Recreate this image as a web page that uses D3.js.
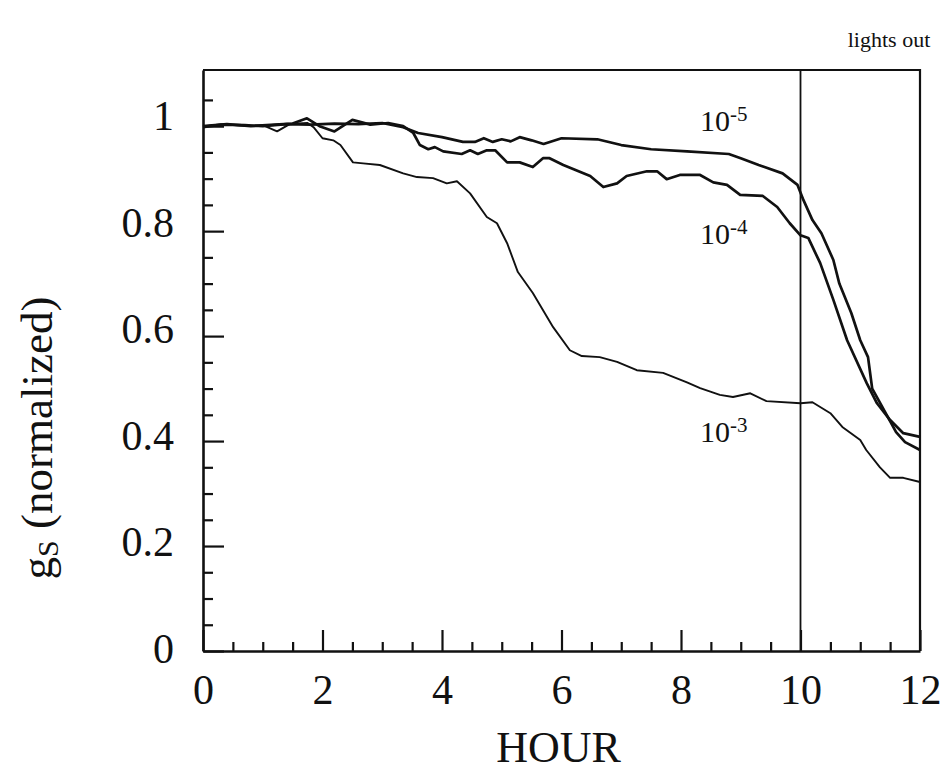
<!DOCTYPE html>
<html>
<head>
<meta charset="utf-8">
<script src="https://cdn.jsdelivr.net/npm/d3@7"></script>
<style>
  html, body { margin: 0; padding: 0; background: #fff; }
  svg { display: block; }
  text { font-family: "Liberation Serif", "Times New Roman", serif; fill: #111; }
</style>
</head>
<body>
<div id="chart"></div>
<script>
// ---- data ----
const xTicks = [0, 2, 4, 6, 8, 10, 12];
const xMinorTicks = [0.5, 1, 1.5, 2.5, 3, 3.5, 4.5, 5, 5.5, 6.5, 7, 7.5, 8.5, 9, 9.5, 10.5, 11, 11.5];
const yTicks = [0, 0.2, 0.4, 0.6, 0.8, 1];
const yTickLabels = ['0', '0.2', '0.4', '0.6', '0.8', '1'];
const yMinorTicks = [0.05, 0.1, 0.15, 0.25, 0.3, 0.35, 0.45, 0.5, 0.55, 0.65, 0.7, 0.75, 0.85, 0.9, 0.95, 1.05];
const lightsOutHour = 10;

// 10^-5
const hours5 = [0, 0.3, 0.7, 1.0, 1.4, 1.8, 2.2, 2.6, 3.0, 3.35, 3.6, 4.0, 4.35, 4.55, 4.7, 4.85, 5.0, 5.15, 5.3, 5.5,
  5.7, 6.0, 6.6, 7.0, 7.5, 8.1, 8.8, 9.0, 9.3, 9.7, 9.95, 10.05, 10.2, 10.35, 10.55, 10.65, 10.85, 11.0, 11.13, 11.2,
  11.35, 11.6, 11.75, 12.0];
const gs5 = [0.998, 1.003, 1.002, 1.0, 1.004, 1.003, 1.005, 1.004, 1.006, 0.998, 0.987, 0.979, 0.970, 0.970, 0.977,
  0.970, 0.975, 0.971, 0.979, 0.973, 0.966, 0.977, 0.975, 0.964, 0.956, 0.952, 0.947, 0.939, 0.926, 0.910, 0.888,
  0.859, 0.821, 0.796, 0.745, 0.70, 0.644, 0.592, 0.56, 0.50, 0.469, 0.417, 0.398, 0.383];

// 10^-4
const hours4 = [0, 0.4, 0.8, 1.2, 1.5, 1.74, 1.95, 2.2, 2.5, 2.8, 3.1, 3.35, 3.52, 3.63, 3.77, 3.88, 4.02, 4.33, 4.47,
  4.6, 4.75, 4.89, 5.09, 5.3, 5.52, 5.69, 5.8, 6.03, 6.48, 6.7, 6.93, 7.09, 7.43, 7.6, 7.76, 7.98, 8.32, 8.54, 8.77,
  8.99, 9.37, 9.61, 9.82, 10.0, 10.13, 10.33, 10.55, 10.78, 11.11, 11.28, 11.5, 11.72, 12.0];
const gs4 = [1.0, 1.004, 1.0, 1.003, 1.005, 1.015, 1.0, 0.99, 1.012, 1.003, 1.006, 1.0, 0.987, 0.964, 0.956, 0.96,
  0.952, 0.947, 0.954, 0.947, 0.954, 0.954, 0.931, 0.931, 0.922, 0.939, 0.939, 0.926, 0.905, 0.884, 0.891, 0.905,
  0.914, 0.914, 0.899, 0.907, 0.907, 0.893, 0.888, 0.869, 0.867, 0.846, 0.815, 0.792, 0.787, 0.739, 0.669, 0.592,
  0.510, 0.472, 0.44, 0.415, 0.408];

// 10^-3
const hours3 = [0, 0.4, 0.8, 1.0, 1.24, 1.45, 1.75, 1.85, 2.0, 2.18, 2.3, 2.51, 2.68, 2.96, 3.35, 3.58, 3.85, 4.08,
  4.25, 4.47, 4.75, 4.92, 5.09, 5.27, 5.52, 5.86, 6.14, 6.34, 6.64, 6.93, 7.26, 7.7, 8.1, 8.32, 8.65, 8.87, 9.16,
  9.43, 10.0, 10.2, 10.5, 10.7, 11.0, 11.1, 11.33, 11.5, 11.72, 12.0];
const gs3 = [1.0, 1.003, 1.0, 1.002, 0.99, 1.004, 1.006, 0.998, 0.977, 0.973, 0.964, 0.931, 0.929, 0.926, 0.910,
  0.903, 0.901, 0.891, 0.895, 0.872, 0.827, 0.815, 0.777, 0.722, 0.682, 0.617, 0.573, 0.562, 0.560, 0.551, 0.535,
  0.530, 0.512, 0.501, 0.488, 0.484, 0.491, 0.476, 0.472, 0.474, 0.453, 0.427, 0.402, 0.383, 0.350, 0.33, 0.33,
  0.322];

const series = [
  { exp: '-5', hours: hours5, values: gs5, width: 2.7, labelHour: 8.32, labelY: 0.99 },
  { exp: '-4', hours: hours4, values: gs4, width: 2.7, labelHour: 8.32, labelY: 0.775 },
  { exp: '-3', hours: hours3, values: gs3, width: 1.9, labelHour: 8.32, labelY: 0.398 }
];

// ---- layout ----
const W = 943, H = 773;
const plot = { left: 203, right: 920, top: 70, bottom: 651 };
const yMax = 1.107;

const svg = d3.select('#chart').append('svg')
  .attr('width', W).attr('height', H);

const x = d3.scaleLinear().domain([0, 12]).range([plot.left, plot.right]);
const y = d3.scaleLinear().domain([0, yMax]).range([plot.bottom, plot.top]);

// frame (top and right)
svg.append('path')
  .attr('d', `M${plot.left},${plot.top}H${plot.right}V${plot.bottom}`)
  .attr('fill', 'none').attr('stroke', '#111').attr('stroke-width', 2.2);

// minor ticks
svg.append('g')
  .attr('transform', `translate(0,${plot.bottom})`)
  .call(d3.axisBottom(x).tickValues(xMinorTicks).tickSize(-9).tickFormat(''))
  .call(g => g.select('.domain').remove())
  .selectAll('line').attr('stroke', '#111').attr('stroke-width', 2.2);
svg.append('g')
  .attr('transform', `translate(${plot.left},0)`)
  .call(d3.axisLeft(y).tickValues(yMinorTicks).tickSize(-10).tickFormat(''))
  .call(g => g.select('.domain').remove())
  .selectAll('line').attr('stroke', '#111').attr('stroke-width', 2.2);

// major x axis
const xAxis = svg.append('g')
  .attr('transform', `translate(0,${plot.bottom})`)
  .call(d3.axisBottom(x).tickValues(xTicks).tickSize(-21).tickSizeOuter(0).tickPadding(23).tickFormat(d3.format('d')));
xAxis.select('.domain').attr('stroke', '#111').attr('stroke-width', 2.6);
xAxis.selectAll('line').attr('stroke', '#111').attr('stroke-width', 2.2);
xAxis.selectAll('text')
  .style('font-family', '"Liberation Serif", "Times New Roman", serif')
  .attr('font-size', 42).attr('fill', '#111');

// major y axis (labels sit a little above their ticks, more so near the top)
const yAxis = svg.append('g')
  .attr('transform', `translate(${plot.left},0)`)
  .call(d3.axisLeft(y).tickValues(yTicks).tickSize(-21).tickSizeOuter(0).tickPadding(29)
    .tickFormat((d, i) => yTickLabels[i]));
yAxis.select('.domain').attr('stroke', '#111').attr('stroke-width', 2.6);
yAxis.selectAll('line').attr('stroke', '#111').attr('stroke-width', 2.2);
yAxis.selectAll('text')
  .style('font-family', '"Liberation Serif", "Times New Roman", serif')
  .attr('font-size', 42).attr('fill', '#111')
  .attr('y', d => -(2 + 8 * d));

// lights out line
svg.append('line')
  .attr('x1', x(lightsOutHour)).attr('x2', x(lightsOutHour))
  .attr('y1', plot.top).attr('y2', plot.bottom)
  .attr('stroke', '#111').attr('stroke-width', 1.8);

svg.append('text')
  .attr('x', 889).attr('y', 47)
  .attr('text-anchor', 'middle')
  .attr('font-size', 22)
  .text('lights out');

// curves
const line = d3.line()
  .x(d => x(d[0]))
  .y(d => y(d[1]))
  .curve(d3.curveLinear);

series.forEach(s => {
  const pts = s.hours.map((h, i) => [h, s.values[i]]);
  svg.append('path')
    .datum(pts)
    .attr('fill', 'none')
    .attr('stroke', '#111')
    .attr('stroke-width', s.width)
    .attr('stroke-linejoin', 'round')
    .attr('d', line);

  const t = svg.append('text')
    .attr('x', x(s.labelHour)).attr('y', y(s.labelY))
    .attr('font-size', 30);
  t.append('tspan').text('10');
  t.append('tspan').attr('font-size', 21).attr('dy', -10).text(s.exp);
});

// axis titles
svg.append('text')
  .attr('x', (plot.left + plot.right) / 2 - 3).attr('y', 762)
  .attr('text-anchor', 'middle')
  .attr('font-size', 44)
  .text('HOUR');

const yTitle = svg.append('text')
  .attr('transform', 'translate(52,438) rotate(-90)')
  .attr('text-anchor', 'middle')
  .attr('font-size', 45);
yTitle.append('tspan').text('g');
yTitle.append('tspan').attr('font-size', 30).attr('dy', 6).text('S');
yTitle.append('tspan').attr('dy', -6).text(' (normalized)');
</script>
</body>
</html>
